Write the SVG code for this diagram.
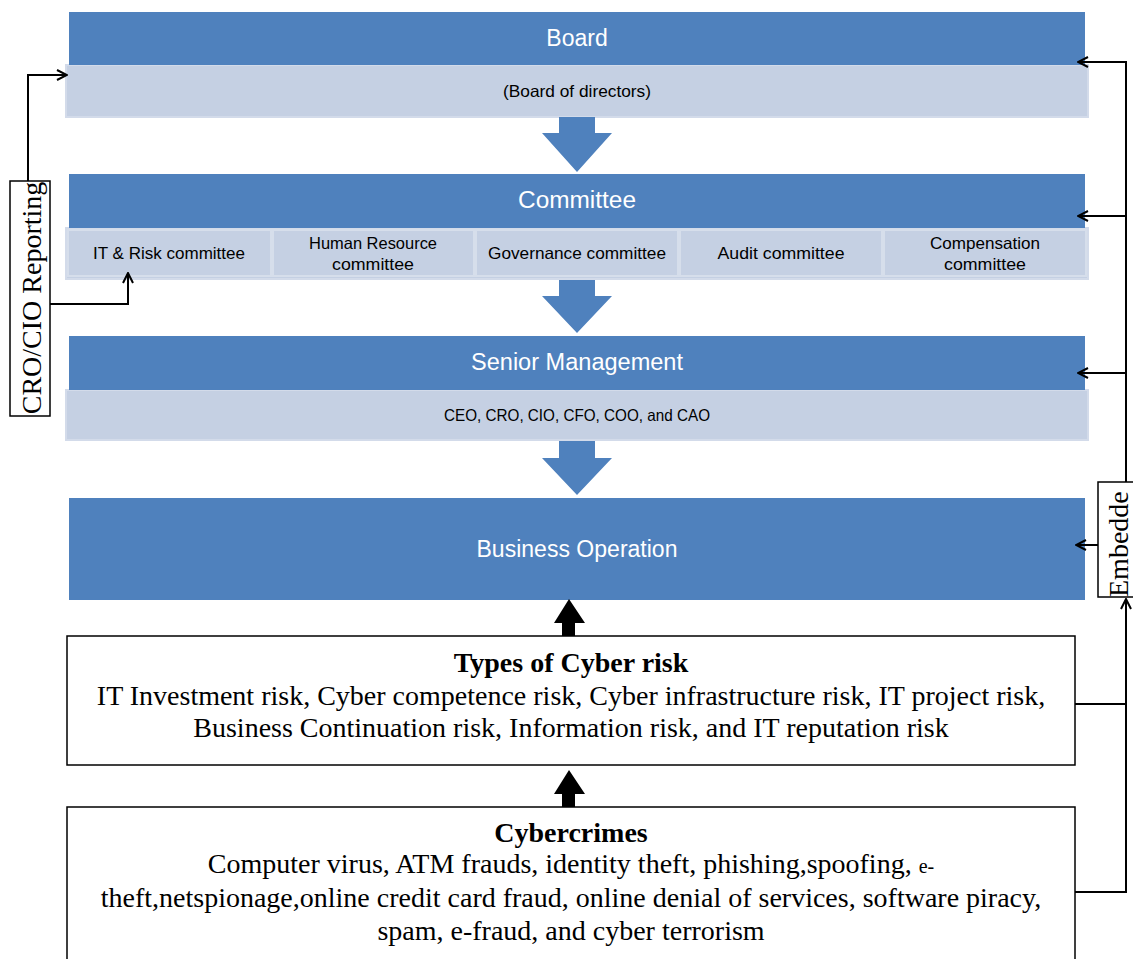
<svg xmlns="http://www.w3.org/2000/svg" width="1133" height="959" viewBox="0 0 1133 959">
<style>
.dark{fill:#4f81bd}
.light{fill:#c5d0e3;stroke:#d3dbea;stroke-width:2}
.cell{fill:#c5d0e3;stroke:#d6deeb;stroke-width:2}
.wt{font-family:"Liberation Sans",Arial,sans-serif;font-size:23px;fill:#ffffff;text-anchor:middle}
.st{font-family:"Liberation Sans",Arial,sans-serif;font-size:16.5px;fill:#000;text-anchor:middle}
.tb{font-family:"Liberation Serif","Times New Roman",serif;font-size:28px;fill:#000;text-anchor:middle}
.bold{font-weight:bold}
.box{fill:#fff;stroke:#000;stroke-width:1.5}
.ln{fill:none;stroke:#000;stroke-width:2}
.blk{fill:#000}
</style>
<defs>
<marker id="open" viewBox="0 0 12 12" refX="11" refY="6" markerWidth="12" markerHeight="12" markerUnits="userSpaceOnUse" orient="auto">
<path d="M1,1 L11,6 L1,11" fill="none" stroke="#000" stroke-width="2"/>
</marker>
</defs>

<g id="board">
<rect class="light" x="66" y="65" width="1022" height="52"/>
<rect class="dark" x="69" y="12" width="1016" height="53"/>
<text class="wt" x="577" y="46">Board</text>
<text class="st" x="577" y="97" textLength="148" lengthAdjust="spacingAndGlyphs">(Board of directors)</text>
</g>

<g id="arrow1"><polygon class="dark" points="559,117 595,117 595,133 612,133 577,172 542,133 559,133"/></g>

<g id="committee">
<rect class="light" x="66" y="228" width="1022" height="51"/>
<rect class="dark" x="69" y="174" width="1016" height="54"/>
<text class="wt" x="577" y="208" textLength="118" lengthAdjust="spacingAndGlyphs">Committee</text>
<rect class="cell" x="68" y="230" width="203" height="46"/>
<rect class="cell" x="273" y="230" width="201" height="46"/>
<rect class="cell" x="476" y="230" width="202" height="46"/>
<rect class="cell" x="680" y="230" width="202" height="46"/>
<rect class="cell" x="884" y="230" width="202" height="46"/>
<text class="st" x="169" y="259" textLength="152" lengthAdjust="spacingAndGlyphs">IT &amp; Risk committee</text>
<text class="st" x="373" y="249" textLength="128" lengthAdjust="spacingAndGlyphs">Human Resource</text>
<text class="st" x="373" y="270" textLength="82" lengthAdjust="spacingAndGlyphs">committee</text>
<text class="st" x="577" y="259" textLength="178" lengthAdjust="spacingAndGlyphs">Governance committee</text>
<text class="st" x="781" y="259" textLength="127" lengthAdjust="spacingAndGlyphs">Audit committee</text>
<text class="st" x="985" y="249" textLength="110" lengthAdjust="spacingAndGlyphs">Compensation</text>
<text class="st" x="985" y="270" textLength="82" lengthAdjust="spacingAndGlyphs">committee</text>
</g>

<g id="arrow2"><polygon class="dark" points="559,280 595,280 595,296 612,296 577,333 542,296 559,296"/></g>

<g id="senior">
<rect class="light" x="66" y="390" width="1022" height="50"/>
<rect class="dark" x="69" y="336" width="1016" height="54"/>
<text class="wt" x="577" y="370" textLength="212" lengthAdjust="spacingAndGlyphs">Senior Management</text>
<text class="st" x="577" y="421" textLength="266" lengthAdjust="spacingAndGlyphs">CEO, CRO, CIO, CFO, COO, and CAO</text>
</g>

<g id="arrow3"><polygon class="dark" points="559,441 595,441 595,458 612,458 577,495 542,458 559,458"/></g>

<g id="business">
<rect class="dark" x="69" y="498" width="1016" height="102"/>
<text class="wt" x="577" y="557" textLength="201" lengthAdjust="spacingAndGlyphs">Business Operation</text>
</g>

<g id="types">
<rect class="box" x="67" y="636" width="1008" height="129"/>
<text class="tb bold" x="571" y="672">Types of Cyber risk</text>
<text class="tb" x="571" y="705">IT Investment risk, Cyber competence risk, Cyber infrastructure risk, IT project risk,</text>
<text class="tb" x="571" y="737">Business Continuation risk, Information risk, and IT reputation risk</text>
</g>

<g id="cybercrimes">
<rect class="box" x="67" y="807" width="1008" height="160"/>
<text class="tb bold" x="571" y="842">Cybercrimes</text>
<text class="tb" x="571" y="873">Computer virus, ATM frauds, identity theft, phishing,spoofing, <tspan font-size="20px">e-</tspan></text>
<text class="tb" x="571" y="907">theft,netspionage,online credit card fraud, online denial of services, software piracy,</text>
<text class="tb" x="571" y="940">spam, e-fraud, and cyber terrorism</text>
</g>

<g id="cro-label">
<rect class="box" x="10" y="181" width="40" height="235"/>
<text class="tb" transform="translate(41,298) rotate(-90)">CRO/CIO Reporting</text>
</g>

<g id="embedded-label">
<rect class="box" x="1098" y="482" width="36" height="115"/>
<text class="tb" transform="translate(1128,597) rotate(-90)" style="text-anchor:start">Embedde</text>
</g>

<g id="connectors">
<polygon class="blk" points="569,599 585,623 575,623 575,636 562,636 562,623 554,623"/>
<polygon class="blk" points="569,770 585,794 575,794 575,807 562,807 562,794 554,794"/>
<polyline class="ln" points="28,181 28,75 67,75" marker-end="url(#open)"/>
<polyline class="ln" points="50,304 128,304 128,273" marker-end="url(#open)"/>
<polyline class="ln" points="1075,704 1126,704"/>
<polyline class="ln" points="1075,892 1126,892 1126,599" marker-end="url(#open)"/>
<polyline class="ln" points="1126,482 1126,62 1078,62" marker-end="url(#open)"/>
<polyline class="ln" points="1126,216 1078,216" marker-end="url(#open)"/>
<polyline class="ln" points="1126,373 1078,373" marker-end="url(#open)"/>
<polyline class="ln" points="1098,545 1076,545" marker-end="url(#open)"/>
</g>
</svg>
